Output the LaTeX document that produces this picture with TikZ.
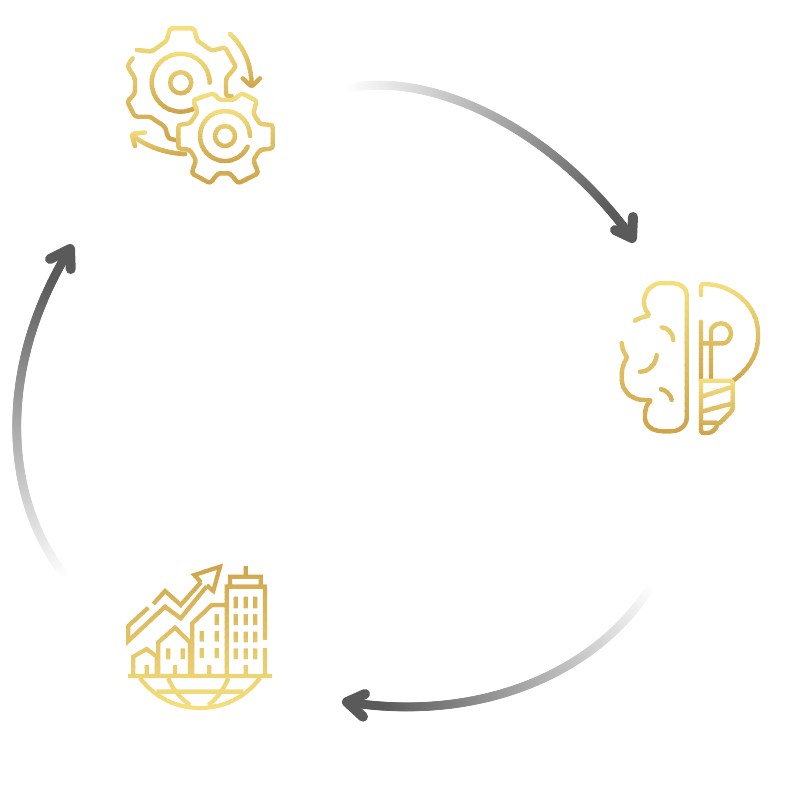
\documentclass[tikz,border=0pt]{standalone}
\usetikzlibrary{decorations.markings}
\definecolor{goldlight}{HTML}{F4DF7E}
\definecolor{golddark}{HTML}{CFA54C}
\definecolor{arrowgrey}{HTML}{5A5A5A}
\tikzset{
  goldline/.style={line width=4.4pt, line cap=round, line join=round, rounded corners=2.5pt},
  cityline/.style={line width=4.2pt, line cap=butt, line join=miter},
  fadeline/.style={decorate, decoration={markings, mark=between positions 0 and 1 step 1pt with {
    \pgfmathsetmacro\fadepct{min(100,(\pgfkeysvalueof{/pgf/decoration/mark info/distance from start}/\pgfdecoratedpathlength)*111)}
    \fill[arrowgrey!\fadepct!white] (0pt,0pt) circle (4.5pt);}}},
  headline/.style={draw=arrowgrey, line width=10pt, line cap=round, line join=round}
}
% one stroke in gold: top y, bottom y, top colour, bottom colour, style, path
\newcommand{\goldstroke}[6]{%
  \foreach \k in {0,...,19}{
    \pgfmathsetmacro\pct{100*\k/19}
    \begin{scope}
      \clip (0,{#1+(#2-#1)*\k/20}) rectangle (800,{#1+(#2-#1)*(\k+1)/20+0.4});
      \draw[#5, draw=#4!\pct!#3] #6;
    \end{scope}
  }%
}
\begin{document}
\begin{tikzpicture}[x=1pt, y=-1pt]
\useasboundingbox (0,0) rectangle (800,800);

% Arrows round the cycle
\coordinate (gearsout) at (350,88);
\coordinate (mindin) at (632,238);
\coordinate (mindout) at (650,588);
\coordinate (cityin) at (347,702);
\coordinate (cityout) at (64,574);
\coordinate (gearsin) at (70,249);

\path[fadeline] (gearsout) .. controls (430,72) and (550,125) .. (mindin);
\draw[headline] (633,217) -- (mindin) -- (615,230);

\path[fadeline] (mindout) .. controls (590,680) and (470,722) .. (cityin);
\draw[headline] (365,694) -- (cityin) -- (363,716.7);

\path[fadeline] (cityout) .. controls (5,500) and (-5,370) .. (gearsin);
\draw[headline] (50,259) -- (gearsin) -- (70.7,269);

% Big gear
\goldstroke{24}{146}{goldlight}{golddark}{goldline}{
  (132.7,58.3) -- (127.3,66) -- (135,78.3) -- (135,93.3) -- (127.3,101.7) -- (135,116.7) -- (150,116.7)
  -- (165,126.7) -- (168.3,138.3) -- (178.3,140.7)
  (136.7,50) -- (151.7,51.7) -- (166.7,40.7) -- (170,28.3) -- (194,28.3) -- (197.3,40.7) -- (211.7,50.7)
  -- (225,47.3) -- (236,66.7) -- (226,78.3) -- (226,96) -- (231.7,96)
}
\goldstroke{50}{114}{goldlight}{golddark}{goldline}{
  (191.2,82.7) arc (0:360:10.5)
  (209.7,82.7) arc (0:-302:29)
}
% Small gear
\goldstroke{90}{186}{goldlight}{golddark}{goldline}{
  (213.3,93.3) -- (220,100) -- (233.3,100) -- (241.7,93.3) -- (256.7,100.7) -- (253.3,113.3) -- (260,124)
  -- (272.7,125) -- (272.7,148.3) -- (260,150) -- (253.3,160) -- (258.3,173.3) -- (238.3,183.3) -- (230,173.3)
  -- (218.3,173.3) -- (210,183.3) -- (191.7,173.3) -- (196,160) -- (190,150) -- (178.3,148.3) -- (178.3,125)
  -- (190,123.3) -- (197.3,112.7) -- (193.3,100) -- cycle
}
\goldstroke{108}{165}{goldlight}{golddark}{goldline}{
  (235,136) arc (0:360:10)
  (250,136) arc (360:25:25)
}
% Turning arrows
\goldstroke{30}{90}{goldlight}{golddark}{goldline}{
  (230,34) .. controls (243,46) and (251,62) .. (251.7,85)
  (242.7,78.3) -- (251.7,86.7) -- (260,78.3)
}
\goldstroke{130}{158}{goldlight}{golddark}{goldline}{
  (185,154) .. controls (165,153) and (148,147) .. (133,136)
  (145,132.3) -- (131.7,134) -- (135,146)
}

% Brain
\goldstroke{280}{434}{goldlight}{golddark}{goldline}{
  (635,320.7) .. controls (640,318) and (645,316) .. (650,316)
  .. controls (645,310) and (643,303) .. (645,296) .. controls (648,288) and (655,283.3) .. (661.7,283.3)
  .. controls (666,283) and (669,283) .. (673.3,283.3) .. controls (681,284) and (686.7,289) .. (686.7,296.7)
  -- (686.7,416.7)
  .. controls (686.7,424) and (681,430) .. (673.3,431) .. controls (669,431.5) and (664,431.5) .. (660,431)
  .. controls (651,430) and (645,424) .. (645,416.7) .. controls (645,409) and (647,404) .. (651.7,400)
  .. controls (645,400) and (640,400) .. (635,398.3) .. controls (626,394) and (621.7,386) .. (621.7,376.7)
  .. controls (621.7,369) and (624,362) .. (627.7,357.3) .. controls (624,353) and (622,348) .. (621.7,343.3)
  (661.7,327.3) .. controls (668,328) and (673,333) .. (673.3,340)
  (656.7,355) .. controls (656,364) and (649,371.7) .. (640,371.7)
  (661,389.3) .. controls (666,390) and (671,395) .. (671.7,400)
}
% Bulb
\goldstroke{280}{385}{goldlight}{golddark}{goldline}{
  (701,295) -- (701,284) .. controls (735,284) and (758,308) .. (758,335) .. controls (758,355) and (748,370) .. (733,380.7)
  (701,321.7) -- (701,380.7)
  (711,380.7) -- (711,333.3) arc (180:450:10) -- (701,343.3)
}
\goldstroke{378}{435}{goldlight}{golddark}{goldline}{
  (701,380.7) -- (732.7,380.7) -- (732.7,410) -- (720,422.7)
  (701,380.7) -- (701,433) -- (705,433) .. controls (712,433) and (716,429) .. (718,422.7) -- (701,422.7)
  (701,396.7) -- (733,386.7)
  (701,411.7) -- (733,403.3)
}

% City
\goldstroke{562}{712}{golddark}{goldlight}{cityline}{
  (128,676) -- (272,676)
  (133.3,675) -- (133.3,656.7) -- (146.7,649) -- (156.7,656.7) -- (156.7,675)
  (146.7,665) -- (146.7,675)
  (158.3,675) -- (158.3,642.3) -- (175,627.7) -- (190,642.3) -- (190,675)
  (168.3,648.3) -- (168.3,659) (182.7,648.3) -- (182.7,659) (175,665) -- (175,675)
  (192.3,675) -- (192.3,623.3) -- (211.7,605) -- (226,605)
  (201.7,631) -- (201.7,641.7) (201.7,648) -- (201.7,658)
  (216.7,614.3) -- (216.7,625) (216.7,631) -- (216.7,641.7) (216.7,648) -- (216.7,658)
  (209.3,665) -- (209.3,675)
  (226.7,675) -- (226.7,586.7) -- (265,586.7) -- (265,640) (265,648) -- (265,675)
  (230,585) -- (230,576.7) -- (260.7,576.7) -- (260.7,585)
  (245.7,566) -- (245.7,576.7) (245.7,665) -- (245.7,675)
  \foreach \winx in {235.7,245.7,255.3}{
    (\winx,596.7) -- (\winx,608.3) (\winx,614.3) -- (\winx,625) (\winx,631.7) -- (\winx,642.3) (\winx,648.3) -- (\winx,659)
  }
  (148.3,607.7) -- (128.3,626) -- (128.3,641) -- (165,606.7) -- (180.7,618.3) -- (206.7,586.3)
  (153.3,604) -- (165,591) -- (180.7,605) -- (201,582.3)
  (201,582.3) -- (194.3,575) -- (220,566.7) -- (213.3,591) -- (206.7,585.3)
  (140,678) .. controls (155,698) and (177,708) .. (200,708) .. controls (223,708) and (245,698) .. (260,678)
  (156.7,691.7) -- (243.3,691.7)
  (168.3,678.3) .. controls (172,688) and (180,698) .. (190,705)
  (228.3,678.3) .. controls (224,688) and (218,698) .. (208.3,705)
}
\end{tikzpicture}
\end{document}
